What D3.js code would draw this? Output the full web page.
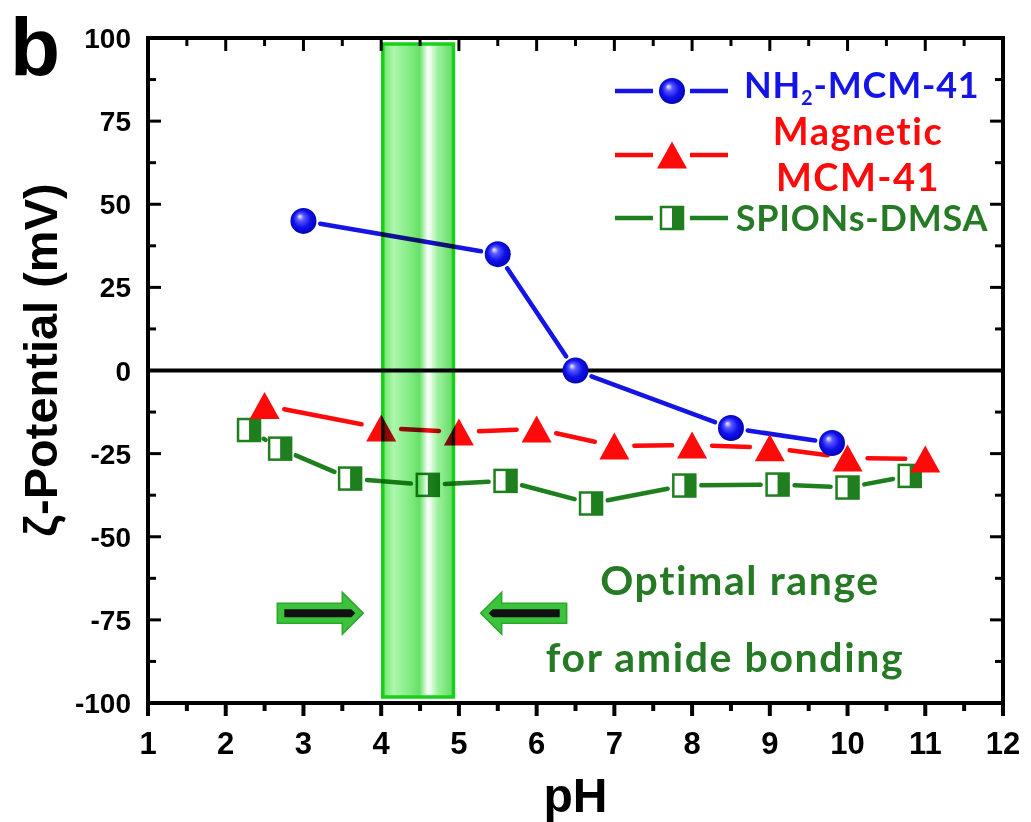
<!DOCTYPE html>
<html>
<head>
<meta charset="utf-8">
<script src="https://cdn.jsdelivr.net/npm/d3@7"></script>
<style>
  body { margin: 0; background: #fff; }
  svg { display: block; }
</style>
</head>
<body>
<div id="viz"></div>
<script>
// data
const nh2PH = [3, 5.5, 6.5, 8.5, 9.8];
const nh2Zeta = [45, 35, 0, -17.3, -21.8];

const magPH = [2.5, 4, 5, 6, 7, 8, 9, 10, 11];
const magZeta = [-10.5, -17.3, -18.5, -17.6, -22.7, -22.4, -23.2, -26.3, -26.6];

const spionPH = [2.3, 2.7, 3.6, 4.6, 5.6, 6.7, 7.9, 9.1, 10, 10.8];
const spionZeta = [-17.9, -23.5, -32.5, -34.4, -33.2, -40, -34.6, -34.3, -35.2, -31.7];

const xTicks = [1, 2, 3, 4, 5, 6, 7, 8, 9, 10, 11, 12];
const yTicks = [100, 75, 50, 25, 0, -25, -50, -75, -100];

const bandRange = [4.02, 4.93];

const W = 1031, H = 822;
const plotL = 148, plotR = 1003, plotT = 38, plotB = 703;

const blue = '#1414e6', red = '#ff0a0a', green = '#1f7f1f', textGreen = '#267a26';

let svg, x, y;

function setup() {
    svg = d3.select('#viz').append('svg')
        .attr('width', W)
        .attr('height', H)
        .style('font-family', '"Liberation Sans", Arial, sans-serif');

    x = d3.scaleLinear().domain([1, 12]).range([plotL, plotR]);
    y = d3.scaleLinear().domain([-100, 100]).range([plotB, plotT]);

    const defs = svg.append('defs');

    const sphere = defs.append('radialGradient')
        .attr('id', 'sphere')
        .attr('cx', '50%').attr('cy', '50%').attr('r', '55%')
        .attr('fx', '35%').attr('fy', '32%');
    sphere.append('stop').attr('offset', '0%').attr('stop-color', '#f4f4ff');
    sphere.append('stop').attr('offset', '25%').attr('stop-color', '#5a5aff');
    sphere.append('stop').attr('offset', '60%').attr('stop-color', '#1010ee');
    sphere.append('stop').attr('offset', '100%').attr('stop-color', '#0000a8');

    const band = defs.append('linearGradient')
        .attr('id', 'band')
        .attr('x1', '0%').attr('x2', '100%').attr('y1', '0%').attr('y2', '0%');
    [[0, '#5ee25e'], [0.15, '#a6f6a6'], [0.35, '#7eec7e'], [0.52, '#58de58'],
     [0.64, '#ffffff'], [0.78, '#94f094'], [1, '#54d854']].forEach(s => {
        band.append('stop').attr('offset', s[0]).attr('stop-color', s[1]);
    });
}

function drawAxes() {
    const frame = svg.append('g');

    // ticks: bottom outward, other sides inward
    const minorX = d3.range(1, 12.01, 0.5);
    const minorY = d3.range(-100, 100.01, 12.5);

    minorX.forEach(v => {
        const major = Number.isInteger(v);
        const len = major ? 13 : 8;
        frame.append('line')
            .attr('x1', x(v)).attr('x2', x(v))
            .attr('y1', plotB).attr('y2', plotB + len)
            .attr('stroke', '#000').attr('stroke-width', 4);
        frame.append('line')
            .attr('x1', x(v)).attr('x2', x(v))
            .attr('y1', plotT).attr('y2', plotT + len)
            .attr('stroke', '#000').attr('stroke-width', 3);
    });

    minorY.forEach(v => {
        const major = v % 25 === 0;
        const len = major ? 13 : 8;
        frame.append('line')
            .attr('x1', plotL).attr('x2', plotL + len)
            .attr('y1', y(v)).attr('y2', y(v))
            .attr('stroke', '#000').attr('stroke-width', 3);
        frame.append('line')
            .attr('x1', plotR).attr('x2', plotR - len)
            .attr('y1', y(v)).attr('y2', y(v))
            .attr('stroke', '#000').attr('stroke-width', 3);
    });

    frame.append('rect')
        .attr('x', plotL).attr('y', plotT)
        .attr('width', plotR - plotL).attr('height', plotB - plotT)
        .attr('fill', 'none')
        .attr('stroke', '#000')
        .attr('stroke-width', 4);

    // zero line
    frame.append('line')
        .attr('x1', plotL).attr('x2', plotR)
        .attr('y1', y(0)).attr('y2', y(0))
        .attr('stroke', '#000').attr('stroke-width', 4);

    svg.append('g').selectAll('text')
        .data(xTicks)
        .join('text')
        .attr('x', d => x(d))
        .attr('y', 754)
        .attr('text-anchor', 'middle')
        .attr('font-size', 31)
        .attr('font-weight', 'bold')
        .text(d => d);

    svg.append('g').selectAll('text')
        .data(yTicks)
        .join('text')
        .attr('x', 131)
        .attr('y', d => y(d) + 10)
        .attr('text-anchor', 'end')
        .attr('font-size', 28)
        .attr('font-weight', 'bold')
        .text(d => d);

    svg.append('text')
        .attr('x', (plotL + plotR) / 2)
        .attr('y', 812)
        .attr('text-anchor', 'middle')
        .attr('font-size', 48)
        .attr('font-weight', 'bold')
        .text('pH');

    svg.append('text')
        .attr('transform', 'translate(57,360) rotate(-90)')
        .attr('text-anchor', 'middle')
        .attr('font-size', 47)
        .attr('font-weight', 'bold')
        .text('ζ-Potential (mV)');

    svg.append('text')
        .attr('x', 10)
        .attr('y', 75)
        .attr('font-size', 82)
        .attr('font-weight', 'bold')
        .text('b');
}

// line segments with a small gap around each marker
function gappedLine(g, xs, ys, color, gap) {
    for (let i = 0; i < xs.length - 1; i++) {
        const x0 = x(xs[i]), y0 = y(ys[i]),
              x1 = x(xs[i + 1]), y1 = y(ys[i + 1]);
        const len = Math.hypot(x1 - x0, y1 - y0);
        if (len <= gap * 2) continue;
        const ux = (x1 - x0) / len, uy = (y1 - y0) / len;
        g.append('line')
            .attr('x1', x0 + ux * gap).attr('y1', y0 + uy * gap)
            .attr('x2', x1 - ux * gap).attr('y2', y1 - uy * gap)
            .attr('stroke', color)
            .attr('stroke-width', 4.5)
            .attr('stroke-linecap', 'round');
    }
}

function sphereMarker(g, cx, cy) {
    g.append('circle')
        .attr('cx', cx).attr('cy', cy).attr('r', 13)
        .attr('fill', 'url(#sphere)');
}

function triangleMarker(g, cx, cy) {
    const hw = 15, hh = 13.5;
    g.append('path')
        .attr('d', `M${cx},${cy - hh}L${cx + hw},${cy + hh}L${cx - hw},${cy + hh}Z`)
        .attr('fill', red);
}

function halfSquare(g, cx, cy) {
    const s = 22;
    g.append('rect')
        .attr('x', cx - s / 2).attr('y', cy - s / 2)
        .attr('width', s).attr('height', s)
        .attr('fill', '#fff')
        .attr('stroke', green).attr('stroke-width', 2.5);
    g.append('rect')
        .attr('x', cx).attr('y', cy - s / 2)
        .attr('width', s / 2).attr('height', s)
        .attr('fill', green);
}

function drawSeries() {
    const g = svg.append('g');

    gappedLine(g, spionPH, spionZeta, green, 17);
    gappedLine(g, magPH, magZeta, red, 20);
    gappedLine(g, nh2PH, nh2Zeta, blue, 17);

    spionPH.forEach((p, i) => halfSquare(g, x(p), y(spionZeta[i])));
    magPH.forEach((p, i) => triangleMarker(g, x(p), y(magZeta[i])));
    nh2PH.forEach((p, i) => sphereMarker(g, x(p), y(nh2Zeta[i])));
}

function drawBand() {
    const g = svg.append('g');
    const bx0 = x(bandRange[0]), bx1 = x(bandRange[1]);

    g.append('rect')
        .attr('x', bx0).attr('y', plotT + 6)
        .attr('width', bx1 - bx0).attr('height', plotB - plotT - 12)
        .attr('fill', 'url(#band)')
        .attr('fill-opacity', 0.92)
        .style('mix-blend-mode', 'multiply')
        .attr('stroke', '#18d018')
        .attr('stroke-width', 3.5);
}

function arrow(g, tipX, cy, dir) {
    // dir = 1 points right, -1 points left
    const len = 86, headLen = 21, shaftH = 10, headH = 21;
    const tail = tipX - dir * len, neck = tipX - dir * headLen;
    g.append('path')
        .attr('d', `M${tail},${cy - shaftH}L${neck},${cy - shaftH}L${neck},${cy - headH}` +
                   `L${tipX},${cy}L${neck},${cy + headH}L${neck},${cy + shaftH}L${tail},${cy + shaftH}Z`)
        .attr('fill', '#3cc23c')
        .attr('stroke', '#2aa82a')
        .attr('stroke-width', 1.5);
    const bTail = tail + dir * 7, bEnd = tipX - dir * 8;
    g.append('path')
        .attr('d', `M${bTail},${cy - 4}L${bEnd - dir * 4},${cy - 4}L${bEnd},${cy}` +
                   `L${bEnd - dir * 4},${cy + 4}L${bTail},${cy + 4}Z`)
        .attr('fill', '#111');
}

function drawAnnotations() {
    const g = svg.append('g');
    arrow(g, x(3.77), y(-73), 1);
    arrow(g, x(5.28), y(-73), -1);

    const t = g.append('g')
        .attr('fill', textGreen)
        .attr('font-family', 'Lato, "Open Sans", sans-serif')
        .attr('font-weight', 'bold')
        .attr('font-size', 41)
        .attr('letter-spacing', 1.6)
        .attr('text-anchor', 'middle');
    t.append('text').attr('x', 740).attr('y', 595).text('Optimal range');
    t.append('text').attr('x', 725).attr('y', 672).text('for amide bonding');
}

function drawLegend() {
    const g = svg.append('g');
    const rows = [
        { y: 91, color: blue, mark: sphereMarker },
        { y: 155, color: red, mark: triangleMarker },
        { y: 218, color: green, mark: halfSquare }
    ];
    rows.forEach(r => {
        [[615, 653], [690, 728]].forEach(seg => {
            g.append('line')
                .attr('x1', seg[0]).attr('x2', seg[1])
                .attr('y1', r.y).attr('y2', r.y)
                .attr('stroke', r.color)
                .attr('stroke-width', 4.5);
        });
        r.mark(g, 672, r.y);
    });

    const t = g.append('g')
        .attr('font-family', 'Lato, "Open Sans", sans-serif')
        .attr('font-weight', 'bold')
        .attr('font-size', 36);

    const nh2 = t.append('text').attr('x', 744).attr('y', 98).attr('fill', blue)
        .attr('letter-spacing', 0.8);
    nh2.append('tspan').text('NH');
    nh2.append('tspan').attr('font-size', 20).attr('dy', 7).text('2');
    nh2.append('tspan').attr('dy', -7).text('-MCM-41');

    t.append('text').attr('x', 858).attr('y', 145).attr('fill', red)
        .attr('font-size', 38).attr('letter-spacing', 1.5)
        .attr('text-anchor', 'middle').text('Magnetic');
    t.append('text').attr('x', 858).attr('y', 191).attr('fill', red)
        .attr('font-size', 38).attr('letter-spacing', 1.5)
        .attr('text-anchor', 'middle').text('MCM-41');
    t.append('text').attr('x', 862).attr('y', 231).attr('fill', textGreen)
        .attr('letter-spacing', 0.8)
        .attr('text-anchor', 'middle').text('SPIONs-DMSA');
}

setup();
drawAxes();
drawSeries();
drawBand();
drawAnnotations();
drawLegend();
</script>
</body>
</html>
